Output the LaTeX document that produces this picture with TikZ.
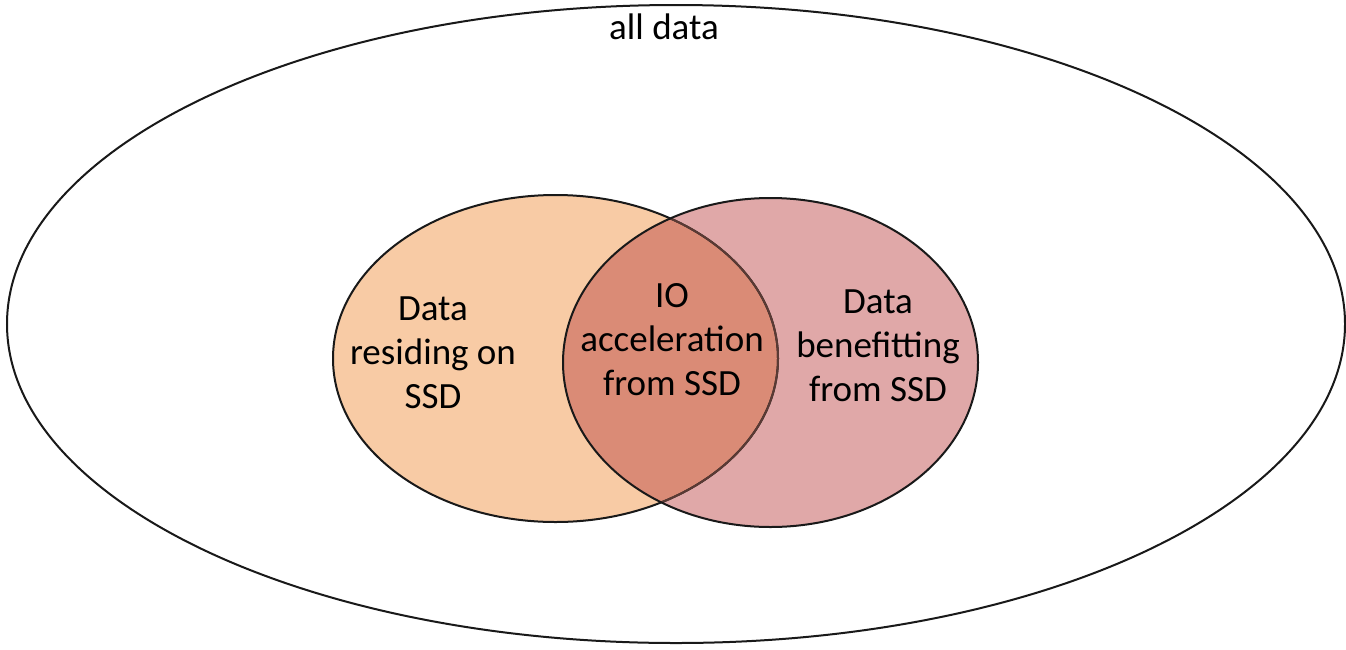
\documentclass[tikz,border=0pt]{standalone}
\usepackage{fontspec}
\setmainfont{Carlito}
\definecolor{leftfill}{HTML}{F8CBA5}
\definecolor{rightfill}{HTML}{E0A8A8}
\definecolor{bothfill}{HTML}{DA8B76}
\definecolor{innerline}{HTML}{5A3A34}
\tikzset{
  outline/.style={line width=2pt, draw=black!90},
  label/.style={align=center, font=\fontsize{37}{44}\selectfont, inner sep=0pt, anchor=base},
}
\begin{document}
\begin{tikzpicture}[x=1pt,y=-1pt]
\useasboundingbox (0,0) rectangle (1346,649);
\fill[white] (0,0) rectangle (1346,649);
% outer set
\draw[outline] (676,324) ellipse [x radius=669, y radius=319];
% left set
\fill[leftfill] (555.5,358.5) ellipse [x radius=222.5, y radius=163.5];
% right set
\fill[rightfill] (770.5,362.5) ellipse [x radius=207.5, y radius=164.5];
% intersection
\begin{scope}
  \clip (555.5,358.5) ellipse [x radius=222.5, y radius=163.5];
  \fill[bothfill] (770.5,362.5) ellipse [x radius=207.5, y radius=164.5];
\end{scope}
\draw[outline] (555.5,358.5) ellipse [x radius=222.5, y radius=163.5];
\begin{scope}
  \clip (770.5,362.5) ellipse [x radius=207.5, y radius=164.5];
  \draw[outline, draw=innerline] (555.5,358.5) ellipse [x radius=222.5, y radius=163.5];
\end{scope}
\draw[outline] (770.5,362.5) ellipse [x radius=207.5, y radius=164.5];
% texts
\node[label] (all) at (664,39) {all data};
\node[label] (ssd) at (433,408) {Data\\residing on\\SSD};
\node[label] (io) at (672,395) {IO\\acceleration\\from SSD};
\node[label] (ben) at (878,401) {Data\\benefitting\\from SSD};
\end{tikzpicture}
\end{document}
